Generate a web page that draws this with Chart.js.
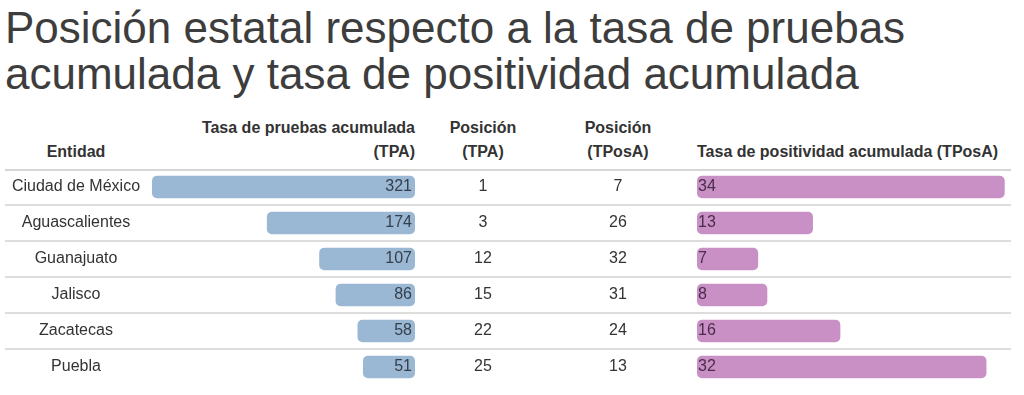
<!DOCTYPE html>
<html>
<head>
<meta charset="utf-8">
<script src="https://cdn.jsdelivr.net/npm/chart.js@4.4.0/dist/chart.umd.min.js"></script>
<style>
    body {
        margin: 0;
        background: #fff;
        width: 1024px;
        height: 395px;
        overflow: hidden;
        position: relative;
        font-family: "Liberation Sans", Arial, sans-serif;
    }
    #title {
        position: absolute;
        left: 5px;
        top: 5px;
        font-size: 44px;
        line-height: 46px;
        color: #3d3d3d;
        white-space: nowrap;
    }
    .head {
        position: absolute;
        top: 116px;
        font-size: 16px;
        font-weight: bold;
        line-height: 24px;
        color: #333;
        white-space: nowrap;
    }
    #tableWrap {
        position: absolute;
        left: 0;
        top: 169px;
        width: 1024px;
        height: 216px;
    }
    #tposaWrap {
        position: absolute;
        left: 697px;
        top: 169px;
        width: 314px;
        height: 216px;
    }
</style>
</head>
<body>
<div id="title">Posición estatal respecto a la tasa de pruebas<br>acumulada y tasa de positividad acumulada</div>

<div class="head" style="left:0;width:152px;text-align:center;top:140px;">Entidad</div>
<div class="head" style="left:150px;width:265px;text-align:right;">Tasa de pruebas acumulada<br>(TPA)</div>
<div class="head" style="left:433px;width:100px;text-align:center;">Posición<br>(TPA)</div>
<div class="head" style="left:568px;width:100px;text-align:center;">Posición<br>(TPosA)</div>
<div class="head" style="left:697px;top:140px;">Tasa de positividad acumulada (TPosA)</div>

<div id="tableWrap"><canvas id="tpaChart"></canvas></div>
<div id="tposaWrap"><canvas id="tposaChart"></canvas></div>

<script>
const entidades = ["Ciudad de México", "Aguascalientes", "Guanajuato", "Jalisco", "Zacatecas", "Puebla"];
const tpa = [321, 174, 107, 86, 58, 51];
const posicionTpa = [1, 3, 12, 15, 22, 25];
const posicionTposa = [7, 26, 32, 31, 24, 13];
const tposa = [34, 13, 7, 8, 16, 32];

const tpaBase = -15.6;
const tposaBase = 0.3;

Chart.defaults.font.family = "'Liberation Sans', Arial, sans-serif";
Chart.defaults.font.size = 16;
Chart.defaults.color = "#333";

// row lines, names, value labels and the two position columns
const tablePlugin = {
    id: "tablePlugin",
    beforeDatasetsDraw(chart) {
        const { ctx, scales: { y } } = chart;
        const rowH = y.getPixelForValue(1) - y.getPixelForValue(0);
        ctx.save();
        entidades.forEach((_, i) => {
            const top = y.getPixelForValue(i) - rowH / 2;
            ctx.beginPath();
            if (i === 0) {
                ctx.strokeStyle = "#d6d6d6";
                ctx.lineWidth = 3;
                ctx.moveTo(5, top + 0.5);
                ctx.lineTo(1011, top + 0.5);
            } else {
                ctx.strokeStyle = "#dddddd";
                ctx.lineWidth = 2;
                ctx.moveTo(5, top);
                ctx.lineTo(1011, top);
            }
            ctx.stroke();
        });
        ctx.restore();
    },
    afterDatasetsDraw(chart) {
        const { ctx, scales: { x, y } } = chart;
        ctx.save();
        ctx.font = "16px 'Liberation Sans', Arial, sans-serif";
        ctx.textBaseline = "middle";
        const baseX = x.getPixelForValue(tpaBase);
        tpa.forEach((v, i) => {
            const py = y.getPixelForValue(i);
            ctx.fillStyle = "#333";
            ctx.textAlign = "center";
            ctx.fillText(entidades[i], 76, py);
            ctx.fillText(posicionTpa[i], 483, py);
            ctx.fillText(posicionTposa[i], 618, py);
            ctx.fillStyle = "#36404c";
            ctx.textAlign = "right";
            ctx.fillText(v, baseX - 3, py);
        });
        ctx.restore();
    }
};

const tposaLabels = {
    id: "tposaLabels",
    afterDatasetsDraw(chart) {
        const { ctx, scales: { x, y } } = chart;
        ctx.save();
        ctx.font = "16px 'Liberation Sans', Arial, sans-serif";
        ctx.textBaseline = "middle";
        ctx.textAlign = "left";
        ctx.fillStyle = "#4b2c4a";
        tposa.forEach((v, i) => {
            ctx.fillText(v, x.getPixelForValue(tposaBase) + 1, y.getPixelForValue(i));
        });
        ctx.restore();
    }
};

new Chart(document.getElementById("tpaChart"), {
    type: "bar",
    data: {
        labels: entidades,
        datasets: [{
            data: tpa,
            base: tpaBase,
            backgroundColor: "#9ab7d3",
            borderRadius: 5,
            borderSkipped: false,
            barPercentage: 0.625,
            categoryPercentage: 1
        }]
    },
    options: {
        indexAxis: "y",
        responsive: true,
        maintainAspectRatio: false,
        animation: false,
        layout: {
            padding: { left: 152, right: 609, top: 0, bottom: 0 }
        },
        plugins: {
            legend: { display: false },
            tooltip: { enabled: false }
        },
        scales: {
            x: {
                display: false,
                reverse: true,
                min: tpaBase,
                max: 321
            },
            y: {
                display: false
            }
        }
    },
    plugins: [tablePlugin]
});

new Chart(document.getElementById("tposaChart"), {
    type: "bar",
    data: {
        labels: entidades,
        datasets: [{
            data: tposa,
            base: tposaBase,
            backgroundColor: "#c990c6",
            borderRadius: 5,
            borderSkipped: false,
            barPercentage: 0.625,
            categoryPercentage: 1
        }]
    },
    options: {
        indexAxis: "y",
        responsive: true,
        maintainAspectRatio: false,
        animation: false,
        layout: { padding: 0 },
        plugins: {
            legend: { display: false },
            tooltip: { enabled: false }
        },
        scales: {
            x: {
                display: false,
                min: tposaBase,
                max: 34.69
            },
            y: {
                display: false
            }
        }
    },
    plugins: [tposaLabels]
});
</script>
</body>
</html>
